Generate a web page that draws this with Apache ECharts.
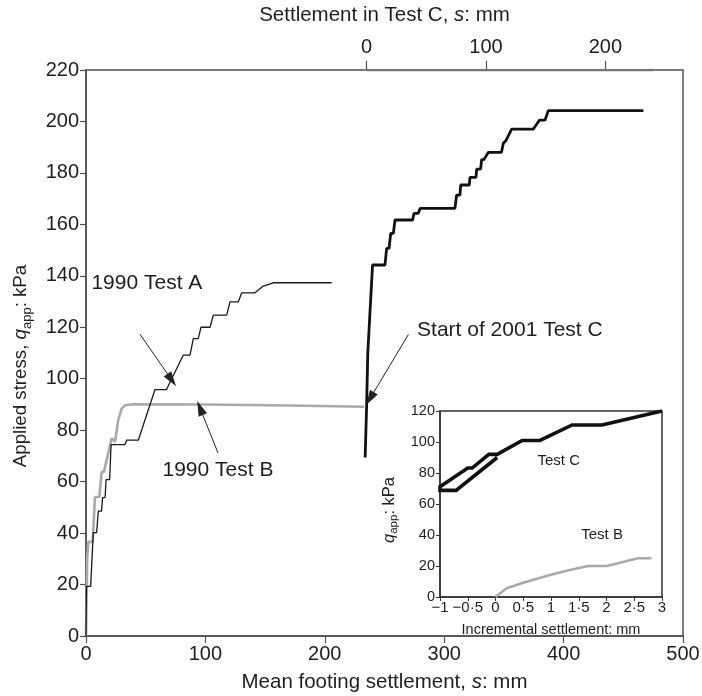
<!DOCTYPE html>
<html>
<head>
<meta charset="utf-8">
<script src="https://cdn.jsdelivr.net/npm/echarts@6/dist/echarts.min.js"></script>
<style>
  html,body{margin:0;padding:0;background:#fff;}
  #chart{width:702px;height:696px;}
</style>
</head>
<body>
<div id="chart"></div>
<script>
// 1990 Test A: mean footing settlement (mm), applied stress (kPa)
var testA = [[0,0],[0.4,19.3],[3.9,19.3],[6.1,40.2],[8.9,40.2],[10.3,48.5],[13,48.5],[13.9,53.8],[16,53.8],
  [16.8,60.8],[19.8,60.8],[21,74.4],[32.7,74.4],[34,76.1],[43.8,76.1],[57.8,95.8],[67.4,95.8],[81.5,109.2],
  [87.1,109.2],[89.9,115.6],[94,115.6],[96.3,120],[103.9,120],[106.6,124.7],[117.8,124.7],[120.6,129.9],
  [127.6,129.9],[130.4,133.4],[141.5,133.4],[148.5,136],[156.9,137.3],[205.8,137.3]];
// 1990 Test B
var testB = [[0,0],[1,30],[1.9,36.6],[5.6,36.6],[7.5,54],[11.2,54],[13.1,63.8],[15,63.8],[21.5,76.8],
  [24.3,75.5],[27,83.9],[29.9,88.4],[32.7,89.7],[39.6,90.1],[100,90],[170,89.6],[233,89.1]];
// 2001 Test C: settlement in Test C (mm), applied stress (kPa)
var testC = [[-1.2,69.4],[0,89],[1,110],[3.4,130.6],[5,144.2],[15.4,144.2],[16.8,150.7],[18.8,150.7],
  [20.2,156.5],[22.4,156.5],[23.8,161.7],[38.6,161.7],[39.7,164.3],[43.3,164.3],[44.8,166.2],[74,166.2],
  [75.4,171.4],[78.2,171.4],[78.8,175.3],[86,175.3],[86.6,178.3],[91.6,178.3],[92.2,181.5],[95.5,181.5],
  [96.4,185.2],[98.3,185.2],[102,188],[113,188],[114.5,191.5],[116.5,192.4],[121.5,197],[139.6,197],
  [144.7,200.5],[149.4,200.5],[152.2,204.2],[231.8,204.2]];
// top axis: Test C settlement zero sits at this mean settlement
var testCOffset = 235;
var topAxisSpan = [[0,220],[240,220]];
var topTicks = [0,100,200];

// inset: incremental settlement (mm), applied stress (kPa)
var insetC = [[0.03,90],[-0.71,68.8],[-1,68.8],[-1,71.2],[-0.5,83.2],[-0.42,83.2],[-0.12,92],[0.03,92],
  [0.48,101],[0.8,101],[1.38,111],[1.92,111],[3,120]];
var insetB = [[0,0],[0.2,5.6],[0.5,9.2],[0.98,14.2],[1.34,17.4],[1.67,20],[2,20],[2.57,25],[2.81,25]];

// annotations [text, x, y] and arrows [x1, y1, x2, y2] in data units
var mainNotes = [['1990 Test A',51,137.2],['1990 Test B',110.5,64.4],['Start of 2001 Test C',355,118.9]];
var mainArrows = [[45.2,117.3,71.8,99.5],[110.6,71.1,95.5,88.6],[270,117.2,237.9,92.3]];
var insetNotes = [['Test C',1.14,87.7],['Test B',1.92,40]];

var FONT = 'Liberation Sans, Arial, sans-serif';
var INK = '#1e1e1e';
var AX = '#505050';

var chart = echarts.init(document.getElementById('chart'));

function dotLabel(v){
  var s = String(Math.abs(v)).replace('.', '·');
  return v < 0 ? '−' + s : s;
}

var option = {
  animation:false,
  backgroundColor:'#fff',
  textStyle:{fontFamily:FONT,color:INK},
  grid:[
    {left:86,top:70,width:597,height:566,show:true,borderColor:AX,borderWidth:1.5,
      backgroundColor:'transparent',outerBoundsMode:'none',containLabel:false},
    {left:440,top:411,width:222,height:186,show:true,borderColor:'#333',borderWidth:1.5,
      backgroundColor:'#fff',outerBoundsMode:'none',containLabel:false}
  ],
  xAxis:[
    {type:'value',gridIndex:0,min:0,max:500,interval:100,
      name:'Mean footing settlement, {i|s}: mm',nameLocation:'middle',nameGap:36,
      nameTextStyle:{fontSize:20.5,color:INK,rich:{i:{fontSize:20.5,fontStyle:'italic',color:INK}}},
      axisLine:{onZero:false,lineStyle:{color:AX,width:1.5}},
      axisTick:{inside:false,length:7,lineStyle:{color:AX,width:1.2}},
      axisLabel:{fontSize:20,color:INK,margin:8},
      splitLine:{show:false}},
    {type:'value',gridIndex:0,position:'top',min:-testCOffset,max:500-testCOffset,interval:100,
      name:'Settlement in Test C, {i|s}: mm',nameLocation:'middle',nameGap:44,
      nameTextStyle:{fontSize:20.5,color:INK,rich:{i:{fontSize:20.5,fontStyle:'italic',color:INK}}},
      axisLine:{show:false,onZero:false},
      axisTick:{show:true,inside:false,length:9,customValues:topTicks,lineStyle:{color:AX,width:1.2}},
      axisLabel:{fontSize:20,color:INK,margin:13,customValues:topTicks},
      splitLine:{show:false}},
    {type:'value',gridIndex:1,min:-1,max:3,interval:0.5,
      name:'Incremental settlement: mm',nameLocation:'middle',nameGap:25,
      nameTextStyle:{fontSize:14.5,color:INK},
      axisLine:{onZero:false,lineStyle:{color:'#333',width:1.5}},
      axisTick:{inside:false,length:4,lineStyle:{color:'#333'}},
      axisLabel:{fontSize:15,color:INK,margin:3,formatter:dotLabel},
      splitLine:{show:false}}
  ],
  yAxis:[
    {type:'value',gridIndex:0,min:0,max:220,interval:20,
      name:'Applied stress, {i|q}{sub|app}: kPa',nameLocation:'middle',nameGap:52,nameRotate:90,
      nameTextStyle:{fontSize:18.7,color:INK,lineHeight:26,padding:[0,26,0,0],
        rich:{i:{fontSize:18.7,fontStyle:'italic',color:INK,lineHeight:26},
              sub:{fontSize:13,color:INK,verticalAlign:'bottom',lineHeight:20}}},
      axisLine:{onZero:false,lineStyle:{color:AX,width:1.5}},
      axisTick:{inside:false,length:6,lineStyle:{color:AX,width:1.2}},
      axisLabel:{fontSize:20,color:INK,margin:7},
      splitLine:{show:false}},
    {type:'value',gridIndex:1,min:0,max:120,interval:20,
      name:'{i|q}{sub|app}: kPa',nameLocation:'middle',nameGap:40,nameRotate:90,
      nameTextStyle:{fontSize:16.5,color:INK,lineHeight:22,padding:[0,12,0,0],
        rich:{i:{fontSize:16.5,fontStyle:'italic',color:INK,lineHeight:22},
              sub:{fontSize:11.5,color:INK,verticalAlign:'bottom',lineHeight:17}}},
      axisLine:{onZero:false,lineStyle:{color:'#333',width:1.5}},
      axisTick:{inside:false,length:4,lineStyle:{color:'#333'}},
      axisLabel:{fontSize:14.5,color:INK,margin:5},
      splitLine:{show:false}}
  ],
  series:[
    {type:'line',name:'topAxis',xAxisIndex:1,yAxisIndex:0,data:topAxisSpan,symbol:'none',
      lineStyle:{color:'#777',width:2.5},z:1,silent:true},
    {type:'line',name:'1990 Test B',xAxisIndex:0,yAxisIndex:0,data:testB,symbol:'none',
      lineStyle:{color:'#a9a9a9',width:2.6},z:2},
    {type:'line',name:'1990 Test A',xAxisIndex:0,yAxisIndex:0,data:testA,symbol:'none',
      lineStyle:{color:'#1a1a1a',width:1.3},z:3,
      markLine:{silent:true,symbol:['none','triangle'],symbolSize:[9,15],
        lineStyle:{color:'#222',width:1,type:'solid'},label:{show:false},
        data:mainArrows.map(function(a){return [{coord:[a[0],a[1]]},{coord:[a[2],a[3]]}];})}},
    {type:'line',name:'2001 Test C',xAxisIndex:1,yAxisIndex:0,data:testC,symbol:'none',
      lineStyle:{color:'#111',width:2.8},z:3},
    {type:'scatter',name:'notes',xAxisIndex:0,yAxisIndex:0,symbolSize:1,silent:true,
      itemStyle:{opacity:0},
      data:mainNotes.map(function(n){return {name:n[0],value:[n[1],n[2]]};}),
      label:{show:true,position:'inside',formatter:'{b}',fontSize:21,color:INK,opacity:1}},
    {type:'line',name:'inset Test B',xAxisIndex:2,yAxisIndex:1,data:insetB,symbol:'none',
      lineStyle:{color:'#a9a9a9',width:2.6},z:4},
    {type:'line',name:'inset Test C',xAxisIndex:2,yAxisIndex:1,data:insetC,symbol:'none',
      lineStyle:{color:'#111',width:3.6,join:'miter'},z:4},
    {type:'scatter',name:'insetNotes',xAxisIndex:2,yAxisIndex:1,symbolSize:1,silent:true,
      itemStyle:{opacity:0},
      data:insetNotes.map(function(n){return {name:n[0],value:[n[1],n[2]]};}),
      label:{show:true,position:'inside',formatter:'{b}',fontSize:15,color:INK,opacity:1}}
  ]
};
chart.setOption(option);
</script>
</body>
</html>
